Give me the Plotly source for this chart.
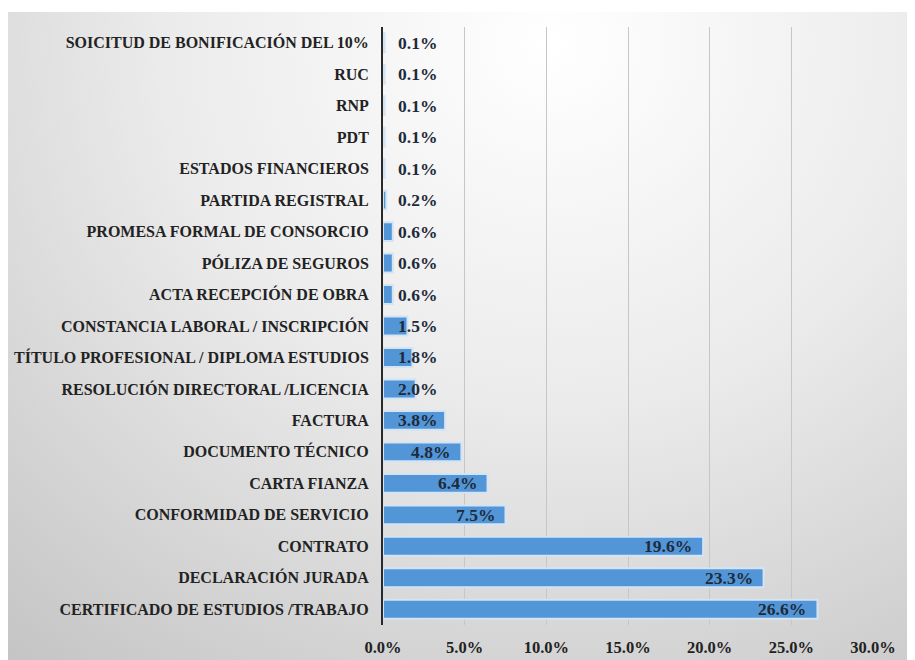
import base64
import plotly.graph_objects as go

categories = [
    "SOICITUD DE BONIFICACIÓN DEL 10%",
    "RUC",
    "RNP",
    "PDT",
    "ESTADOS FINANCIEROS",
    "PARTIDA REGISTRAL",
    "PROMESA FORMAL DE CONSORCIO",
    "PÓLIZA DE SEGUROS",
    "ACTA RECEPCIÓN DE OBRA",
    "CONSTANCIA LABORAL / INSCRIPCIÓN",
    "TÍTULO PROFESIONAL / DIPLOMA ESTUDIOS",
    "RESOLUCIÓN DIRECTORAL /LICENCIA",
    "FACTURA",
    "DOCUMENTO TÉCNICO",
    "CARTA FIANZA",
    "CONFORMIDAD DE SERVICIO",
    "CONTRATO",
    "DECLARACIÓN JURADA",
    "CERTIFICADO DE ESTUDIOS /TRABAJO",
]
values = [0.1, 0.1, 0.1, 0.1, 0.1, 0.2, 0.6, 0.6, 0.6, 1.5, 1.8, 2.0,
          3.8, 4.8, 6.4, 7.5, 19.6, 23.3, 26.6]
x_ticks = [0, 5, 10, 15, 20, 25, 30]
x_tick_labels = ["0.0%", "5.0%", "10.0%", "15.0%", "20.0%", "25.0%", "30.0%"]

FONT = "Liberation Serif"
MIN_LABEL_X = 4.0  # labels of short bars start at the axis (Excel inside-end style)

W, H = 907, 652
L, R, T, B = 375, 42, 19, 35
pw, ph = W - L - R, H - T - B

svg = (
    f'<svg xmlns="http://www.w3.org/2000/svg" width="{W}" height="{H - 4}" '
    'preserveAspectRatio="none">'
    '<defs><radialGradient id="g" cx="0.6" cy="0.05" r="0.95" '
    'gradientTransform="translate(0.6 0.05) scale(1 1.3) translate(-0.6 -0.05)">'
    '<stop offset="0" stop-color="#ffffff"/>'
    '<stop offset="0.45" stop-color="#ebebeb"/>'
    '<stop offset="1" stop-color="#c4c4c4"/>'
    '</radialGradient></defs>'
    f'<rect width="{W}" height="{H - 4}" fill="url(#g)"/></svg>'
)
bg_src = "data:image/svg+xml;base64," + base64.b64encode(svg.encode()).decode()

fig = go.Figure()
fig.add_trace(go.Bar(
    y=categories,
    x=values,
    orientation="h",
    width=0.6,
    marker=dict(color="#5296d8", line=dict(color="#d3e4f4", width=2)),
    hoverinfo="skip",
))

annotations = []
for cat, v in zip(categories, values):
    annotations.append(dict(
        x=max(v, MIN_LABEL_X), y=cat, xref="x", yref="y",
        text=f"<b>{v:.1f}%</b>", showarrow=False,
        xanchor="right", yanchor="middle", xshift=-9,
        font=dict(family=FONT, size=17.5, color="#1f2a3a"),
    ))

fig.update_layout(
    width=W, height=H,
    margin=dict(l=L, r=R, t=T, b=B, pad=0, autoexpand=False),
    paper_bgcolor="white",
    plot_bgcolor="rgba(0,0,0,0)",
    showlegend=False,
    font=dict(family=FONT),
    annotations=annotations,
    images=[dict(
        source=bg_src, xref="paper", yref="paper",
        x=-L / pw, y=(H - B - 4) / ph,
        sizex=W / pw, sizey=(H - 4) / ph,
        sizing="stretch", xanchor="left", yanchor="top", layer="below",
    )],
    xaxis=dict(
        range=[0, 30], tickvals=x_ticks,
        ticktext=[f"<b>{t}</b>" for t in x_tick_labels],
        showgrid=True, gridcolor="#c6c6c6", gridwidth=1,
        zeroline=False, showline=False, automargin=False,
        ticks="outside", ticklen=7, tickcolor="rgba(0,0,0,0)",
        tickfont=dict(family=FONT, size=16.5, color="#222222"),
        fixedrange=True,
    ),
    yaxis=dict(
        autorange="reversed", showgrid=False, zeroline=False,
        showline=True, linecolor="#2a2a2a", linewidth=2, automargin=False,
        tickvals=categories,
        ticktext=[f"<b>{c}</b>" for c in categories],
        ticks="outside", ticklen=9, tickcolor="rgba(0,0,0,0)",
        tickfont=dict(family=FONT, size=16, color="#222222"),
        fixedrange=True,
    ),
)

fig.write_html("out.html")
